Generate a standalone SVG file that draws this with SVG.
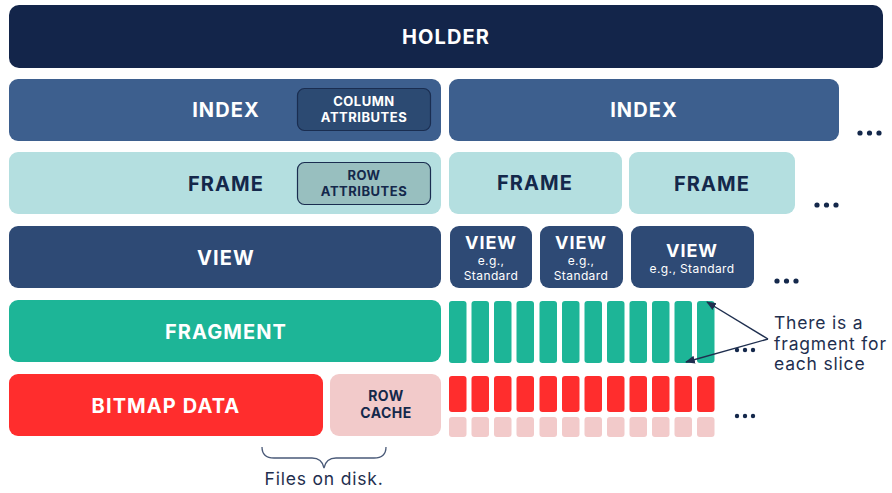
<svg xmlns="http://www.w3.org/2000/svg" width="892" height="493" viewBox="0 0 892 493">
  <defs>
    <style>
      .lbl { font-family: Inter, "Open Sans", "DejaVu Sans", sans-serif; font-weight: 700; text-anchor: middle; }
      .w { fill: #ffffff; }
      .d { fill: #14284b; }
      .big { font-size: 20px; letter-spacing: 1.1px; }
      .sm { font-size: 13px; letter-spacing: 0.5px; }
      .vw { font-size: 18px; letter-spacing: 1px; }
      .eg { font-family: Inter, "Open Sans", "DejaVu Sans", sans-serif; font-size: 12px; font-weight: 400; letter-spacing: 0.4px; fill: #ffffff; text-anchor: middle; }
      .note { font-family: Inter, "Open Sans", "DejaVu Sans", sans-serif; font-size: 17.5px; font-weight: 400; letter-spacing: 0.8px; fill: #1f2f4f; }
      .dot { fill: #14284b; }
      .frag { fill: #1db597; }
      .bit { fill: #ff2d2d; }
      .cache { fill: #f2caca; }
    </style>
    <marker id="ah" viewBox="0 0 10 10" refX="9" refY="5" markerWidth="7" markerHeight="7" orient="auto-start-reverse">
      <path d="M0,1 L10,5 L0,9 z" fill="#1f2f4f"/>
    </marker>
  </defs>

  <g id="holder">
    <rect x="9" y="5" width="874" height="63" rx="10" fill="#13254a"/>
    <text class="lbl w big" x="446" y="44">HOLDER</text>
  </g>

  <g id="index-1">
    <rect x="9" y="79" width="432" height="62" rx="9" fill="#3d5f8e"/>
    <text class="lbl w big" x="226" y="117">INDEX</text>
    <rect x="297.5" y="88.5" width="133" height="42" rx="7" fill="#2c4a72" stroke="#1a2d50" stroke-width="1.2"/>
    <text class="lbl w sm" x="364" y="106">COLUMN</text>
    <text class="lbl w sm" x="364" y="122">ATTRIBUTES</text>
  </g>
  <g id="index-2">
    <rect x="449" y="79" width="390" height="62" rx="9" fill="#3d5f8e"/>
    <text class="lbl w big" x="644" y="117">INDEX</text>
  </g>

  <g id="frame-1">
    <rect x="9" y="152" width="432" height="62" rx="9" fill="#b4dfe0"/>
    <text class="lbl d big" x="226" y="191">FRAME</text>
    <rect x="297.5" y="162.5" width="133" height="42" rx="7" fill="#98bfbf" stroke="#1a2d50" stroke-width="1.2"/>
    <text class="lbl d sm" x="364" y="180">ROW</text>
    <text class="lbl d sm" x="364" y="196">ATTRIBUTES</text>
  </g>
  <g id="frame-2">
    <rect x="449" y="152" width="173" height="62" rx="9" fill="#b4dfe0"/>
    <text class="lbl d big" x="535" y="190">FRAME</text>
  </g>
  <g id="frame-3">
    <rect x="629" y="152" width="166" height="62" rx="9" fill="#b4dfe0"/>
    <text class="lbl d big" x="712" y="191">FRAME</text>
  </g>

  <g id="view-1">
    <rect x="9" y="226" width="432" height="62" rx="9" fill="#2e4a75"/>
    <text class="lbl w big" x="226" y="265">VIEW</text>
  </g>
  <g id="view-2">
    <rect x="450" y="226" width="82" height="62" rx="9" fill="#2e4a75"/>
    <text class="lbl w vw" x="491" y="249">VIEW</text>
    <text class="eg" x="491" y="265">e.g.,</text>
    <text class="eg" x="491" y="280">Standard</text>
  </g>
  <g id="view-3">
    <rect x="540" y="226" width="83" height="62" rx="9" fill="#2e4a75"/>
    <text class="lbl w vw" x="581" y="249">VIEW</text>
    <text class="eg" x="581" y="265">e.g.,</text>
    <text class="eg" x="581" y="280">Standard</text>
  </g>
  <g id="view-4">
    <rect x="631" y="226" width="123" height="62" rx="9" fill="#2e4a75"/>
    <text class="lbl w vw" x="692" y="257">VIEW</text>
    <text class="eg" x="692" y="273">e.g., Standard</text>
  </g>

  <g id="fragment">
    <rect x="9" y="300" width="432" height="62" rx="9" fill="#1db597"/>
    <text class="lbl w big" x="226" y="339">FRAGMENT</text>
  </g>
  <g id="fragment-slices">
    <rect class="frag" x="449" y="301" width="17.5" height="62" rx="3"/>
    <rect class="frag" x="471.5" y="301" width="17.5" height="62" rx="3"/>
    <rect class="frag" x="494" y="301" width="17.5" height="62" rx="3"/>
    <rect class="frag" x="516.5" y="301" width="17.5" height="62" rx="3"/>
    <rect class="frag" x="539.5" y="301" width="17.5" height="62" rx="3"/>
    <rect class="frag" x="562" y="301" width="17.5" height="62" rx="3"/>
    <rect class="frag" x="584.5" y="301" width="17.5" height="62" rx="3"/>
    <rect class="frag" x="607" y="301" width="17.5" height="62" rx="3"/>
    <rect class="frag" x="629.5" y="301" width="17.5" height="62" rx="3"/>
    <rect class="frag" x="652" y="301" width="17.5" height="62" rx="3"/>
    <rect class="frag" x="674.5" y="301" width="17.5" height="62" rx="3"/>
    <rect class="frag" x="697" y="301" width="17.5" height="62" rx="3"/>
  </g>

  <g id="bitmap-data">
    <rect x="9" y="374" width="314" height="62" rx="9" fill="#ff2d2d"/>
    <text class="lbl w big" x="166" y="413">BITMAP DATA</text>
  </g>
  <g id="row-cache">
    <rect x="330" y="374" width="111" height="62" rx="9" fill="#f2caca"/>
    <text class="lbl d sm" x="386" y="401" style="font-size:14px">ROW</text>
    <text class="lbl d sm" x="386" y="418" style="font-size:14px">CACHE</text>
  </g>
  <g id="bitmap-slices">
    <rect class="bit" x="449" y="376" width="17.5" height="36" rx="3"/>
    <rect class="bit" x="471.5" y="376" width="17.5" height="36" rx="3"/>
    <rect class="bit" x="494" y="376" width="17.5" height="36" rx="3"/>
    <rect class="bit" x="516.5" y="376" width="17.5" height="36" rx="3"/>
    <rect class="bit" x="539.5" y="376" width="17.5" height="36" rx="3"/>
    <rect class="bit" x="562" y="376" width="17.5" height="36" rx="3"/>
    <rect class="bit" x="584.5" y="376" width="17.5" height="36" rx="3"/>
    <rect class="bit" x="607" y="376" width="17.5" height="36" rx="3"/>
    <rect class="bit" x="629.5" y="376" width="17.5" height="36" rx="3"/>
    <rect class="bit" x="652" y="376" width="17.5" height="36" rx="3"/>
    <rect class="bit" x="674.5" y="376" width="17.5" height="36" rx="3"/>
    <rect class="bit" x="697" y="376" width="17.5" height="36" rx="3"/>
  </g>
  <g id="cache-slices">
    <rect class="cache" x="449" y="417" width="17.5" height="20" rx="3"/>
    <rect class="cache" x="471.5" y="417" width="17.5" height="20" rx="3"/>
    <rect class="cache" x="494" y="417" width="17.5" height="20" rx="3"/>
    <rect class="cache" x="516.5" y="417" width="17.5" height="20" rx="3"/>
    <rect class="cache" x="539.5" y="417" width="17.5" height="20" rx="3"/>
    <rect class="cache" x="562" y="417" width="17.5" height="20" rx="3"/>
    <rect class="cache" x="584.5" y="417" width="17.5" height="20" rx="3"/>
    <rect class="cache" x="607" y="417" width="17.5" height="20" rx="3"/>
    <rect class="cache" x="629.5" y="417" width="17.5" height="20" rx="3"/>
    <rect class="cache" x="652" y="417" width="17.5" height="20" rx="3"/>
    <rect class="cache" x="674.5" y="417" width="17.5" height="20" rx="3"/>
    <rect class="cache" x="697" y="417" width="17.5" height="20" rx="3"/>
  </g>

  <!-- continuation ellipses -->
  <g id="ellipses">
    <circle class="dot" cx="860" cy="133" r="2.6"/><circle class="dot" cx="869.5" cy="133" r="2.6"/><circle class="dot" cx="879" cy="133" r="2.6"/>
    <circle class="dot" cx="817" cy="205" r="2.6"/><circle class="dot" cx="826.5" cy="205" r="2.6"/><circle class="dot" cx="836" cy="205" r="2.6"/>
    <circle class="dot" cx="777" cy="281" r="2.6"/><circle class="dot" cx="786.5" cy="281" r="2.6"/><circle class="dot" cx="796" cy="281" r="2.6"/>
    <circle class="dot" cx="737" cy="350" r="2.2"/><circle class="dot" cx="745" cy="350" r="2.2"/><circle class="dot" cx="753" cy="350" r="2.2"/>
    <circle class="dot" cx="737" cy="416" r="2.2"/><circle class="dot" cx="745" cy="416" r="2.2"/><circle class="dot" cx="753" cy="416" r="2.2"/>
  </g>

  <g id="connectors" fill="none" stroke="#1f2f4f" stroke-width="1.4">
    <line x1="768" y1="339" x2="707" y2="302" marker-end="url(#ah)"/>
    <line x1="768" y1="339" x2="686" y2="362" marker-end="url(#ah)"/>
    <path d="M262,447 Q262,458 274,458 L312,458 Q322,458 324,468 Q326,458 336,458 L374,458 Q386,458 386,447" stroke="#4a5a78" stroke-width="1.3"/>
  </g>

  <g id="annotations">
    <text class="note" x="774" y="329">There is a</text>
    <text class="note" x="774" y="350">fragment for</text>
    <text class="note" x="774" y="370">each slice</text>
    <text class="note" x="324" y="485" text-anchor="middle">Files on disk.</text>
  </g>
</svg>
